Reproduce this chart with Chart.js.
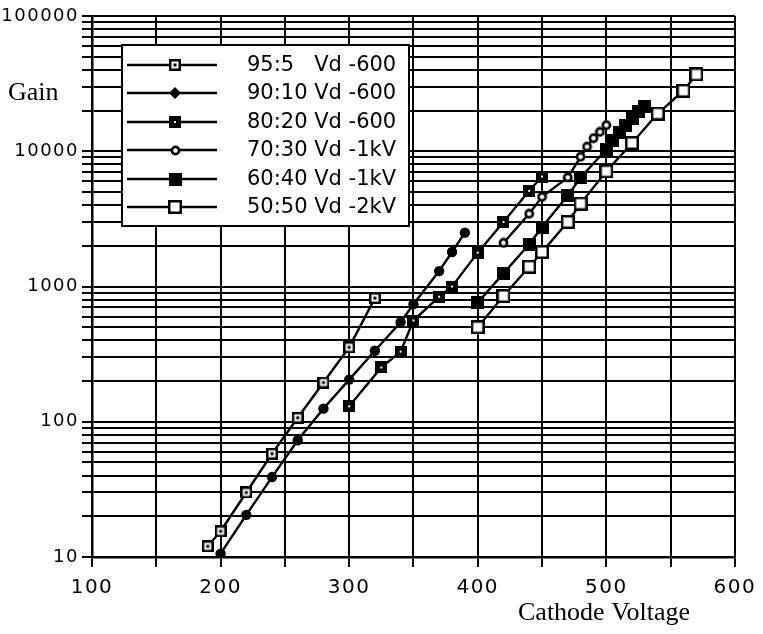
<!DOCTYPE html>
<html>
<head>
<meta charset="utf-8">
<title>Gain vs Cathode Voltage</title>
<script src="https://cdn.jsdelivr.net/npm/chart.js@4.4.1/dist/chart.umd.min.js"></script>
<style>
  html, body { margin: 0; padding: 0; background: #fff; }
</style>
</head>
<body>
<canvas id="gainChart" width="763" height="634"></canvas>
<script>
// series labels
const seriesLabels = ['95:5   Vd -600', '90:10 Vd -600', '80:20 Vd -600', '70:30 Vd -1kV', '60:40 Vd -1kV', '50:50 Vd -2kV'];

// values (cathode voltage, gain)
const volts95 = [190, 200, 220, 240, 260, 280, 300, 320];
const gain95  = [12, 15.5, 30, 58, 107, 195, 355, 820];

const volts90 = [200, 220, 240, 260, 280, 300, 320, 340, 350, 370, 380, 390];
const gain90  = [10.6, 20.5, 39, 73, 125, 205, 335, 545, 740, 1300, 1800, 2500];

const volts80 = [300, 325, 340, 350, 370, 380, 400, 420, 440, 450];
const gain80  = [130, 252, 330, 560, 840, 1000, 1780, 3000, 5100, 6500];

const volts70 = [420, 440, 450, 470, 480, 485, 490, 495, 500];
const gain70  = [2100, 3450, 4600, 6400, 9100, 10800, 12500, 13900, 15600];

const volts60 = [400, 420, 440, 450, 470, 480, 500, 505, 510, 515, 520, 525, 530];
const gain60  = [760, 1250, 2050, 2750, 4700, 6400, 10300, 12000, 13700, 15500, 17500, 19800, 21500];

const volts50 = [400, 420, 440, 450, 470, 480, 500, 520, 540, 560, 570];
const gain50  = [500, 850, 1400, 1800, 3000, 4100, 7100, 11500, 19000, 28000, 37000];

// axis ticks
const xLabelTicks = [100, 200, 300, 400, 500, 600];
const yLabelTicks = [10, 100, 1000, 10000, 100000];

// log grid: 1..9 in every decade
const yGridTicks = [];
for (let d = 10; d < 100000; d *= 10) {
  for (let k = 1; k < 10; k++) yGridTicks.push(d * k);
}
yGridTicks.push(100000);

function makeMarker(size, draw) {
  const c = document.createElement('canvas');
  c.width = size;
  c.height = size;
  draw(c.getContext('2d'), size);
  return c;
}

const markDotSquare = makeMarker(12, (g, s) => {
  g.fillStyle = '#000'; g.fillRect(0, 0, s, s);
  g.fillStyle = '#fff'; g.fillRect(2.5, 2.5, s - 5, s - 5);
  g.fillStyle = '#000'; g.fillRect(4.5, 4.5, 3, 3);
});
const markBlackDotSquare = makeMarker(12, (g, s) => {
  g.fillStyle = '#000'; g.fillRect(0, 0, s, s);
  g.fillStyle = '#fff'; g.fillRect(5, 5, 2, 2);
});
const markOpenCircle = makeMarker(11, (g, s) => {
  g.beginPath();
  g.arc(s / 2, s / 2, 3.6, 0, Math.PI * 2);
  g.fillStyle = '#fff'; g.fill();
  g.lineWidth = 2.6; g.strokeStyle = '#000'; g.stroke();
});
const markBlackSquare = makeMarker(13, (g, s) => {
  g.fillStyle = '#000'; g.fillRect(0, 0, s, s);
});
const markOpenSquare = makeMarker(14, (g, s) => {
  g.fillStyle = '#000'; g.fillRect(0, 0, s, s);
  g.fillStyle = '#fff'; g.fillRect(2.5, 2.5, s - 5, s - 5);
});

function toPoints(xs, ys) {
  return xs.map((x, i) => ({ x: x, y: ys[i] }));
}

function series(label, xs, ys, style) {
  return {
    label: label,
    data: toPoints(xs, ys),
    showLine: true,
    borderColor: '#000',
    borderWidth: 2.4,
    backgroundColor: '#000',
    pointStyle: style,
    pointRadius: 5.2,
    pointBorderWidth: 0,
    tension: 0
  };
}

const datasets = [
  series(seriesLabels[0], volts95, gain95, markDotSquare),
  series(seriesLabels[1], volts90, gain90, 'circle'),
  series(seriesLabels[2], volts80, gain80, markBlackDotSquare),
  series(seriesLabels[3], volts70, gain70, markOpenCircle),
  series(seriesLabels[4], volts60, gain60, markBlackSquare),
  series(seriesLabels[5], volts50, gain50, markOpenSquare)
];

// tick label spacing only for the axes
const spacingPlugin = {
  id: 'spacing',
  beforeDraw(chart) { chart.ctx.letterSpacing = '1.5px'; },
  beforeDatasetsDraw(chart) { chart.ctx.letterSpacing = '0px'; }
};

const legendAndTitles = {
  id: 'legendAndTitles',
  afterDraw(chart) {
    const ctx = chart.ctx;
    ctx.save();
    ctx.letterSpacing = '0px';

    // legend box
    ctx.fillStyle = '#fff';
    ctx.fillRect(121, 44, 289, 183);
    ctx.strokeStyle = '#000';
    ctx.lineWidth = 2;
    ctx.strokeRect(122, 45, 287, 181);

    ctx.font = '21px "DejaVu Sans"';
    ctx.textBaseline = 'middle';
    ctx.textAlign = 'left';
    chart.data.datasets.forEach((ds, i) => {
      const y = Math.round(65 + i * 28.4);
      ctx.beginPath();
      ctx.moveTo(127, y);
      ctx.lineTo(217, y);
      ctx.lineWidth = 2.4;
      ctx.strokeStyle = '#000';
      ctx.stroke();
      if (ds.pointStyle instanceof HTMLCanvasElement) {
        const m = ds.pointStyle;
        ctx.drawImage(m, Math.round(175 - m.width / 2), Math.round(y - m.height / 2));
      } else {
        // diamond as drawn in the legend
        ctx.beginPath();
        ctx.moveTo(175, y - 6);
        ctx.lineTo(181, y);
        ctx.lineTo(175, y + 6);
        ctx.lineTo(169, y);
        ctx.closePath();
        ctx.fillStyle = '#000';
        ctx.fill();
      }
      ctx.fillStyle = '#000';
      ctx.fillText(ds.label, 247, y + 1);
    });

    // axis titles
    ctx.font = '26px "Liberation Serif"';
    ctx.textBaseline = 'alphabetic';
    ctx.fillStyle = '#000';
    ctx.fillText('Gain', 8, 100);
    ctx.fillText('Cathode Voltage', 518, 620);
    ctx.restore();
  }
};

new Chart(document.getElementById('gainChart'), {
  type: 'scatter',
  data: { datasets: datasets },
  options: {
    responsive: false,
    animation: false,
    events: [],
    devicePixelRatio: 1,
    layout: { padding: { top: 16, right: 28, left: 0, bottom: 0 } },
    plugins: {
      legend: { display: false },
      tooltip: { enabled: false }
    },
    scales: {
      x: {
        type: 'linear',
        min: 100,
        max: 600,
        afterFit(scale) { scale.height = 77; },
        grid: { color: '#000', lineWidth: 2, tickLength: 10, tickColor: '#000' },
        border: { color: '#000', width: 2.5 },
        ticks: {
          stepSize: 50,
          autoSkip: false,
          maxRotation: 0,
          padding: 9,
          color: '#000',
          font: { family: 'DejaVu Sans', size: 20 },
          callback: v => xLabelTicks.includes(v) ? String(v) : ''
        }
      },
      y: {
        type: 'logarithmic',
        min: 10,
        max: 100000,
        afterFit(scale) { scale.width = 92; },
        afterBuildTicks(scale) {
          scale.ticks = yGridTicks.map(v => ({ value: v }));
        },
        grid: { color: '#000', lineWidth: 2, tickLength: 10, tickColor: '#000' },
        border: { color: '#000', width: 2.5 },
        ticks: {
          autoSkip: false,
          padding: 3,
          color: '#000',
          font: { family: 'DejaVu Sans', size: 18 },
          callback: v => yLabelTicks.includes(v) ? String(v) : ''
        }
      }
    }
  },
  plugins: [spacingPlugin, legendAndTitles]
});
</script>
</body>
</html>
